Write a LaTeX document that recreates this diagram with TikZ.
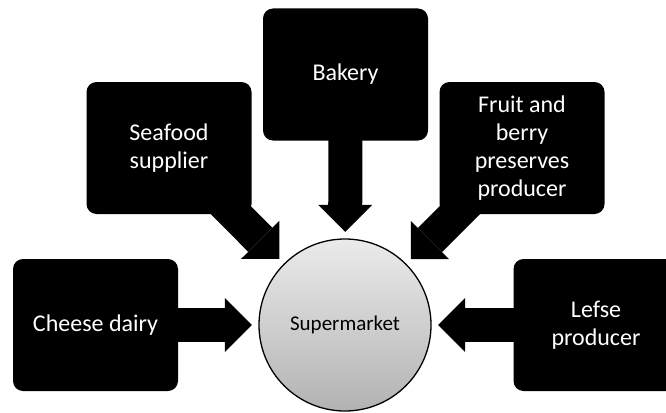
\documentclass[tikz,border=0pt]{standalone}
\usepackage{fontspec}
\setmainfont{Carlito}
\usetikzlibrary{arrows.meta,backgrounds}
\begin{document}
\begin{tikzpicture}[x=1pt,y=-1pt,
  source/.style={fill=black, rounded corners=10pt, minimum width=165pt,
    minimum height=132pt, inner sep=0pt, text=white, align=center,
    font=\fontsize{24}{28}\selectfont},
  hub/.style={circle, draw=black, line width=1.3pt, minimum size=172pt,
    inner sep=0pt, top color=black!8, bottom color=black!30,
    font=\fontsize{21}{25}\selectfont},
  feed/.style={draw=black, line width=34pt,
    -{Triangle[length=27pt, width=54pt, line width=0pt]}, shorten >=6.5pt}
]
\useasboundingbox (0,0) rectangle (666,412);
\clip (0,0) rectangle (666,412);

% supplier boxes
\node[source] (cheese)  at (95.5,325)  {Cheese dairy};
\node[source] (seafood) at (169,148)   {Seafood\\supplier};
\node[source] (bakery)  at (345.5,74.5) {Bakery};
\node[source] (fruit)   at (522,148)   {Fruit and\\berry\\preserves\\producer};
\node[source] (lefse)   at (596,325)   {Lefse\\producer};

% central hub
\node[hub] (market) at (345,325) {Supermarket};

% thick arrows feeding the hub, kept behind the boxes
\begin{scope}[on background layer]
\draw[feed] (cheese.center)  -- (market);
\draw[feed] (seafood.center) -- (market);
\draw[feed] (bakery.center)  -- (market);
\draw[feed] (fruit.center)   -- (market);
\draw[feed] (lefse.center)   -- (market);
\end{scope}
\end{tikzpicture}
\end{document}
